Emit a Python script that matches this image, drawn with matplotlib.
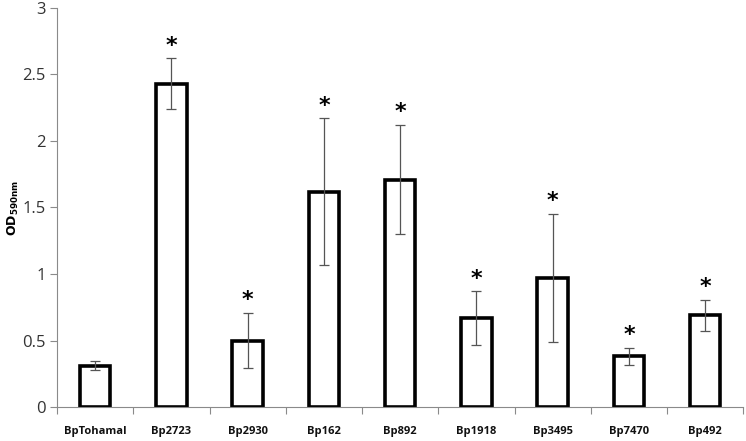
import numpy as np
import matplotlib
matplotlib.use("Agg")
from matplotlib import pyplot as plt

strains = ["BpTohamaI", "Bp2723", "Bp2930", "Bp162", "Bp892",
           "Bp1918", "Bp3495", "Bp7470", "Bp492"]
od590 = [0.31, 2.43, 0.50, 1.62, 1.71, 0.67, 0.97, 0.38, 0.69]
od_err = [0.035, 0.19, 0.21, 0.55, 0.41, 0.20, 0.48, 0.065, 0.115]
signif = [False, True, True, True, True, True, True, True, True]

plt.rcParams['font.family'] = ['Open Sans', 'DejaVu Sans']

fig = plt.figure(figsize=(7.46, 4.41), dpi=100)
ax = fig.add_axes([0.0764, 0.077, 0.92, 0.905])

x = np.arange(len(strains))
ax.bar(x, od590, width=0.4, facecolor='white', edgecolor='black', linewidth=2.6, zorder=2)
ax.errorbar(x, od590, yerr=od_err, fmt='none', ecolor='#555555',
            elinewidth=0.9, capsize=3.5, capthick=0.9, zorder=3)

# significance stars above the error bars
for xi, v, e, s in zip(x, od590, od_err, signif):
    if s:
        ax.text(xi, v + e + 0.02, "*", ha='center', va='bottom',
                fontsize=16, fontweight='bold', family='DejaVu Sans')

ax.set_xlim(-0.5, len(strains) - 0.5)
ax.set_ylim(0, 3)
ax.set_yticks([0, 0.5, 1, 1.5, 2, 2.5, 3])
ax.set_yticklabels(["0", "0.5", "1", "1.5", "2", "2.5", "3"])
ax.tick_params(axis='y', labelsize=12, colors='#8a8a8a', labelcolor='#333333',
               length=5, width=0.8, pad=3)

# category boundaries as ticks, labels in the middle
ax.set_xticks(np.arange(len(strains) + 1) - 0.5)
ax.set_xticklabels([])
ax.set_xticks(x, minor=True)
ax.set_xticklabels(strains, minor=True, fontsize=8, fontweight='bold')
ax.tick_params(axis='x', which='major', length=5, width=0.8, colors='#8a8a8a')
ax.tick_params(axis='x', which='minor', length=0, pad=14, labelcolor='#111111')

for side in ['top', 'right']:
    ax.spines[side].set_visible(False)
for side in ['left', 'bottom']:
    ax.spines[side].set_color('#8a8a8a')
    ax.spines[side].set_linewidth(0.8)

ax.set_ylabel(r'$\mathbf{OD_{590nm}}$', fontsize=9, labelpad=1)

plt.savefig('out.png', dpi=100)
